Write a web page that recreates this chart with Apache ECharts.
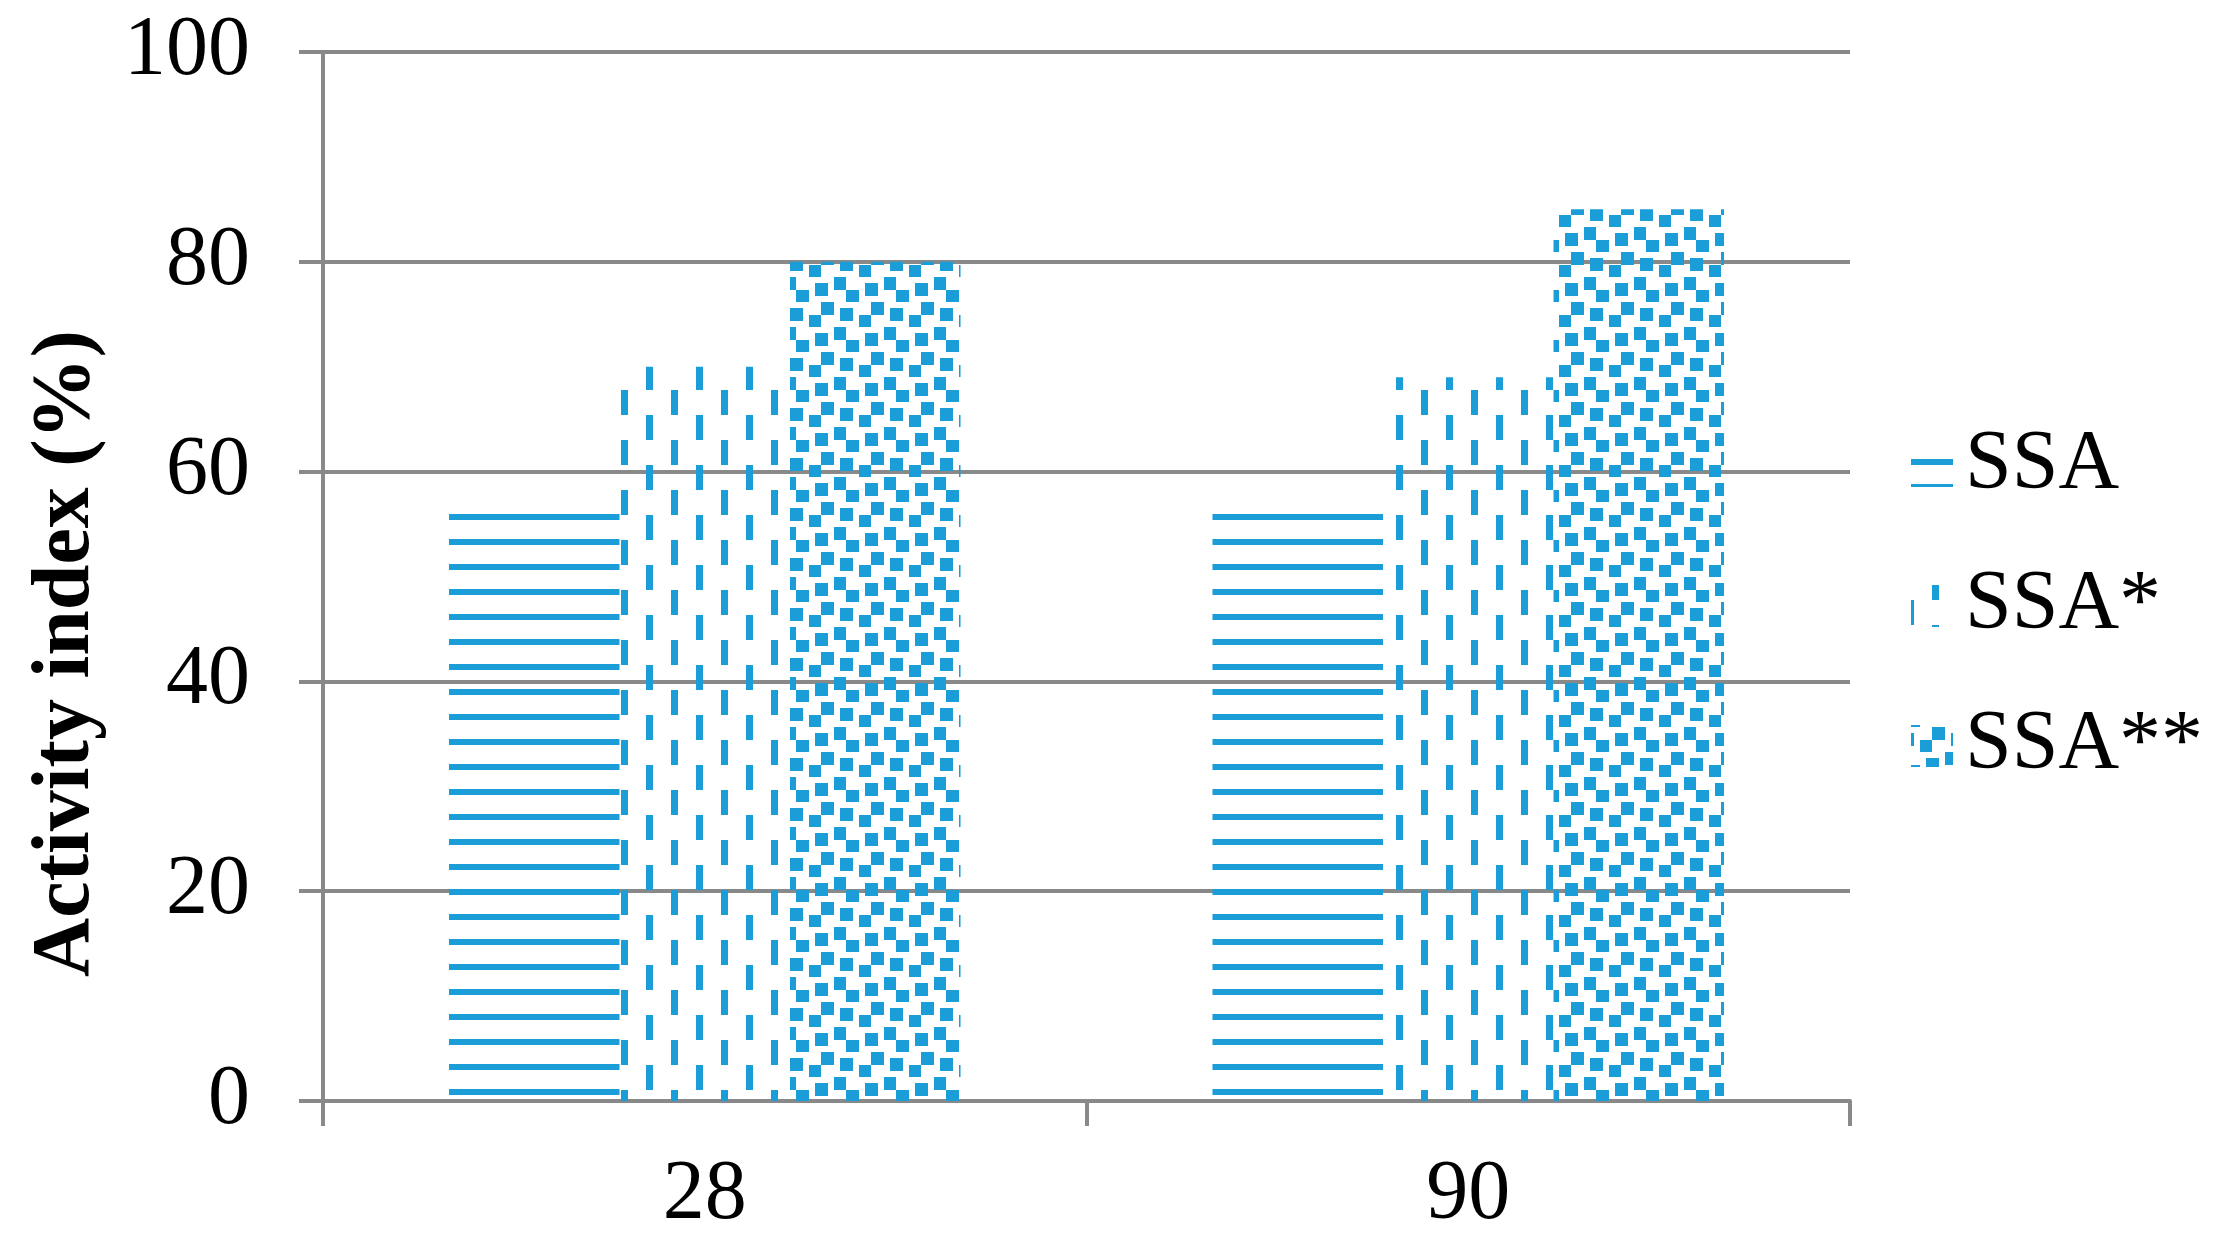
<!DOCTYPE html>
<html>
<head>
<meta charset="utf-8">
<style>
  html, body { margin: 0; padding: 0; background: #ffffff; }
  #chart { width: 2222px; height: 1248px; }
</style>
<script src="https://cdn.jsdelivr.net/npm/echarts@6/dist/echarts.min.js"></script>
</head>
<body>
<div id="chart"></div>
<script>
// ---- data ----
const categories = ['28', '90'];
const seriesNames = ['SSA', 'SSA*', 'SSA**'];
const ssaValues = [56, 56];
const ssaStarValues = [70, 69];
const ssaStar2Values = [80, 85];
const yTickMin = 0, yTickMax = 100, yTickStep = 20;

// ---- patterns ----
const BLUE = '#1b9dd8';
const TILE = 50;
function makeTile(draw) {
  const c = document.createElement('canvas');
  c.width = TILE; c.height = TILE;
  const ctx = c.getContext('2d');
  ctx.fillStyle = BLUE;
  draw(ctx);
  return c;
}
function wrapRect(ctx, x, y, w, h) {
  for (const dx of [-TILE, 0, TILE]) for (const dy of [-TILE, 0, TILE]) ctx.fillRect(x + dx, y + dy, w, h);
}
// horizontal lines
const patHorz = makeTile(ctx => { wrapRect(ctx, 0, 14, TILE, 6); wrapRect(ctx, 0, 39, TILE, 6); });
// dashed vertical
const patDashVert = makeTile(ctx => { wrapRect(ctx, 21, 40, 7, 25); wrapRect(ctx, 46, 15, 7, 25); });
// large confetti
const patConfetti = makeTile(ctx => {
  const u = 6.25, ox = 40, oy = 2;
  const sq = [[5,0],[0,1],[3,2],[7,4],[4,5],[1,6]];
  sq.forEach(([c, r]) => {
    const x0 = Math.round(ox + c * u), y0 = Math.round(oy + r * u);
    const x1 = Math.round(ox + (c + 2) * u), y1 = Math.round(oy + (r + 2) * u);
    wrapRect(ctx, x0, y0, x1 - x0, y1 - y0);
  });
});
const patterns = [patHorz, patDashVert, patConfetti];
const valueLists = [ssaValues, ssaStarValues, ssaStar2Values];

const FONT = 'Liberation Serif';
const GRAY = '#898989';

const chart = echarts.init(document.getElementById('chart'), null, { renderer: 'canvas' });
chart.setOption({
  animation: false,
  backgroundColor: '#ffffff',
  grid: { left: 323, right: 372, top: 52, bottom: 147, containLabel: false },
  legend: {
    orient: 'vertical',
    left: 1906,
    top: 419,
    itemWidth: 42,
    itemHeight: 42,
    itemGap: 56,
    icon: 'rect',
    selectedMode: false,
    textStyle: { fontFamily: FONT, fontSize: 84, lineHeight: 84, color: '#000', padding: [0, 0, 0, 7] },
    data: seriesNames
  },
  xAxis: {
    type: 'category',
    data: categories,
    axisLine: { show: true, lineStyle: { color: GRAY, width: 4 } },
    axisTick: { show: true, length: 25, lineStyle: { color: GRAY, width: 4 } },
    axisLabel: { fontFamily: FONT, fontSize: 84, color: '#000', margin: 53 },
    splitLine: { show: false }
  },
  yAxis: {
    type: 'value',
    min: yTickMin, max: yTickMax, interval: yTickStep,
    name: 'Activity index (%)',
    nameLocation: 'middle',
    nameRotate: 90,
    nameGap: 215,
    nameTextStyle: { fontFamily: FONT, fontSize: 82, fontWeight: 'bold', color: '#000', padding: [0, 154, 0, 0] },
    axisLine: { show: true, lineStyle: { color: GRAY, width: 4 } },
    axisTick: { show: true, length: 24, lineStyle: { color: GRAY, width: 4 } },
    axisLabel: { fontFamily: FONT, fontSize: 84, color: '#000', margin: 73 },
    splitLine: { show: true, lineStyle: { color: GRAY, width: 4 } }
  },
  series: seriesNames.map((n, i) => ({
    name: n,
    type: 'bar',
    data: valueLists[i],
    barGap: '0%',
    barCategoryGap: '33%',
    itemStyle: { color: { image: patterns[i], repeat: 'repeat' } },
    emphasis: { disabled: true }
  }))
});
</script>
</body>
</html>
